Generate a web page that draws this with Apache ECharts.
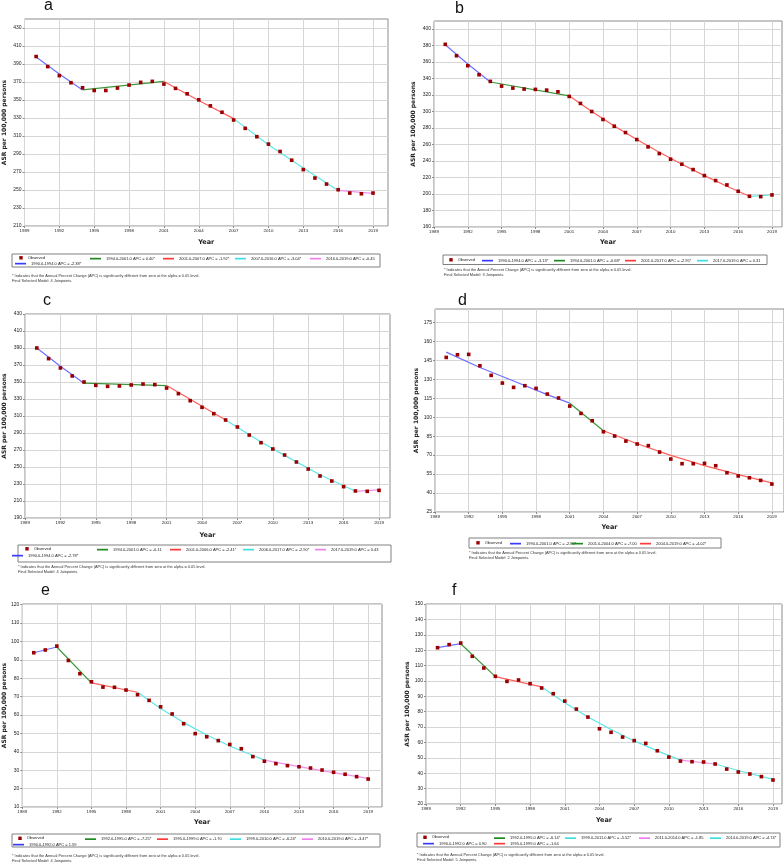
<!DOCTYPE html>
<html>
<head>
<meta charset="utf-8">
<script src="https://cdn.jsdelivr.net/npm/echarts@6/dist/echarts.min.js"></script>
<style>html,body{margin:0;padding:0;background:#fff;}#chart{width:784px;height:863px;}</style>
</head>
<body>
<div id="chart"></div>
<script>
// ---------- DATA ----------
const years = [1990,1991,1992,1993,1994,1995,1996,1997,1998,1999,2000,2001,2002,2003,2004,2005,2006,2007,2008,2009,2010,2011,2012,2013,2014,2015,2016,2017,2018,2019];
const xTicks = [1989,1992,1995,1998,2001,2004,2007,2010,2013,2016,2019];

const yTicksA = [210,230,250,270,290,310,330,350,370,390,410,430];
const yTicksB = [160,180,200,220,240,260,280,300,320,340,360,380,400];
const yTicksC = [190,210,230,250,270,290,310,330,350,370,390,410,430];
const yTicksD = [25,40,55,70,85,100,115,130,145,160,175];
const yTicksE = [10,20,30,40,50,60,70,80,90,100,110,120];
const yTicksF = [20,30,40,50,60,70,80,90,100,110,120,130,140,150];

const obsA = [398.3,387.1,377.1,369.2,363.6,360.6,360.6,363.3,366.6,369.6,370.7,367.7,362.9,356.9,350.2,343.5,336.4,327.8,318.5,309.2,301.0,292.8,283.1,272.7,263.3,256.6,250.3,246.6,245.8,246.6];
const obsB = [381.4,367.6,355.5,344.6,336.5,330.8,328.4,327.2,326.8,325.9,323.9,318.3,309.8,300.0,290.3,282.2,274.5,266.0,257.1,249.0,242.2,236.1,229.6,222.3,216.3,211.0,203.3,197.2,196.8,198.9];
const obsC = [390.0,377.5,366.5,357.1,350.0,346.1,344.9,345.3,346.5,347.6,346.9,342.9,336.3,328.0,320.2,312.7,305.3,297.1,287.6,278.6,271.2,264.1,255.9,247.6,239.4,233.5,226.9,221.8,221.4,222.5];
const obsD = [147.3,149.4,149.7,140.7,133.1,127.0,123.6,124.9,122.8,118.3,115.2,108.8,103.0,97.2,88.5,85.1,81.1,78.8,77.5,72.4,66.9,63.2,63.2,63.5,61.6,56.1,53.5,52.1,50.0,47.1];
const obsE = [93.9,95.4,97.5,89.7,82.5,78.1,75.2,75.1,73.6,71.1,68.0,64.5,60.6,55.3,49.9,48.2,46.1,44.0,41.7,37.4,34.9,33.6,32.5,31.9,31.2,30.1,28.9,27.8,26.5,25.2];
const obsF = [121.6,123.6,124.6,116.0,108.4,103.0,99.7,100.6,98.2,95.4,91.7,86.9,81.7,76.5,68.9,66.6,63.5,61.2,59.4,54.6,50.5,47.9,47.5,47.3,46.0,42.7,40.8,39.5,37.8,35.6];

// joinpoint fitted segments: [year, fitted ASR]
const fitA1 = [[1990,397.7],[1992,379.0],[1994,361.2]];
const fitA2 = [[1994,361.2],[2001,370.6]];
const fitA3 = [[2001,370.6],[2004,349.4],[2007,329.3]];
const fitA4 = [[2007,329.3],[2010,300.2],[2013,274.4],[2016,249.5]];
const fitA5 = [[2016,249.5],[2019,246.2]];

const fitB1 = [[1990,381.0],[1992,357.5],[1994,335.8]];
const fitB2 = [[1994,335.8],[2001,319.0]];
const fitB3 = [[2001,319.0],[2003,300.0],[2005,282.5],[2007,266.1],[2009,250.6],[2011,236.1],[2013,222.3],[2015,209.4],[2017,197.2]];
const fitB4 = [[2017,197.2],[2019,198.8]];

const fitC1 = [[1990,390.0],[1992,368.6],[1994,348.6]];
const fitC2 = [[1994,348.6],[2001,345.8]];
const fitC3 = [[2001,345.8],[2006,305.3]];
const fitC4 = [[2006,305.3],[2009,279.3],[2011,263.7],[2014,240.8],[2017,221.4]];
const fitC5 = [[2017,221.4],[2019,223.2]];

const fitD1 = [[1990,151.5],[1993,139.3],[1996,128.6],[1999,117.9],[2001,111.1]];
const fitD2 = [[2001,111.1],[2004,89.3]];
const fitD3 = [[2004,89.3],[2007,79.0],[2010,69.8],[2013,61.7],[2016,54.6],[2019,48.0]];

const fitE1 = [[1990,93.9],[1992,97.0]];
const fitE2 = [[1992,97.0],[1995,77.5]];
const fitE3 = [[1995,77.5],[1999,72.4]];
const fitE4 = [[1999,72.4],[2001,63.6],[2003,55.9],[2005,49.2],[2007,43.2],[2009,38.0],[2010,35.5]];
const fitE5 = [[2010,35.5],[2013,32.0],[2016,28.7],[2019,25.6]];

const fitF1 = [[1990,121.7],[1992,124.2]];
const fitF2 = [[1992,124.2],[1995,102.8]];
const fitF3 = [[1995,102.8],[1999,96.1]];
const fitF4 = [[1999,96.1],[2001,85.8],[2003,76.6],[2005,68.4],[2007,61.0],[2009,54.5],[2011,48.5]];
const fitF5 = [[2011,48.5],[2014,46.0]];
const fitF6 = [[2014,46.0],[2016,41.8],[2019,36.0]];

const namesA = ['1990.0-1994.0 APC = -2.38*','1994.0-2001.0 APC = 0.40*','2001.0-2007.0 APC = -1.92*','2007.0-2016.0 APC = -3.04*','2016.0-2019.0 APC = -0.45'];
const namesB = ['1990.0-1994.0 APC = -3.13*','1994.0-2001.0 APC = -0.68*','2001.0-2017.0 APC = -2.95*','2017.0-2019.0 APC = 0.31'];
const namesC = ['1990.0-1994.0 APC = -2.78*','1994.0-2001.0 APC = -0.11','2001.0-2006.0 APC = -2.41*','2006.0-2017.0 APC = -2.90*','2017.0-2019.0 APC = 0.43'];
const namesD = ['1990.0-2001.0 APC = -2.80*','2001.0-2004.0 APC = -7.00','2004.0-2019.0 APC = -4.02*'];
const namesE = ['1990.0-1992.0 APC = 1.59','1992.0-1995.0 APC = -7.25*','1995.0-1999.0 APC = -1.70','1999.0-2010.0 APC = -6.24*','2010.0-2019.0 APC = -3.47*'];
const namesF = ['1990.0-1992.0 APC = 0.90','1992.0-1995.0 APC = -6.14*','1995.0-1999.0 APC = -1.64','1999.0-2011.0 APC = -5.52*','2011.0-2014.0 APC = -1.85','2014.0-2019.0 APC = -4.74*'];

const letters = ['a','b','c','d','e','f'];
const joinpoints = [4,3,4,2,4,5];
const footLine1 = '* Indicates that the Annual Percent Change (APC) is significantly different from zero at the alpha = 0.05 level.';
const obsName = 'Observed';
const yTitle = 'ASR per 100,000 persons';
const xTitle = 'Year';

// ---------- STYLE / LAYOUT ----------
const C = {blue:'#6f6fff', green:'#3c963c', red:'#ff5e5e', cyan:'#5ee6e6', pink:'#f090f0'};
const LC = {blue:'#3a3aff', green:'#1f8a1f', red:'#ff3a3a', cyan:'#3ce0e0', pink:'#ee80ee'};
const panels = [
  {obs:obsA, fits:[fitA1,fitA2,fitA3,fitA4,fitA5], names:namesA, cols:['blue','green','red','cyan','pink'], yTicks:yTicksA,
   grid:{left:24,top:19,width:364,height:207}, xMax:2020.29, yMin:210, yMax:440, yGap:17.5, xGap:12.5,
   letter:[44,8.5], box:[12,254,368,13], foot:[12,273],
   leg:[[21,257.5],[15,262.5],[90,257.5],[163,257.5],[235,257.5],[310,257.5]]},
  {obs:obsB, fits:[fitB1,fitB2,fitB3,fitB4], names:namesB, cols:['blue','green','red','cyan'], yTicks:yTicksB,
   grid:{left:434,top:21,width:348,height:206}, xMax:2019.89, yMin:160, yMax:409.7, yGap:18, xGap:12,
   letter:[455,12], box:[443,255,324,9.5], foot:[444,267.5],
   leg:[[451,259.5],[482,259.5],[554,259.5],[625,259.5],[697,259.5]]},
  {obs:obsC, fits:[fitC1,fitC2,fitC3,fitC4,fitC5], names:namesC, cols:['blue','green','red','cyan','pink'], yTicks:yTicksC,
   grid:{left:25,top:314,width:365,height:204}, xMax:2019.93, yMin:190, yMax:430, yGap:18, xGap:14,
   letter:[43,304], box:[18,545,373,17], foot:[18,564],
   leg:[[27,548.5],[12,554.5],[97,548.5],[170,548.5],[243,548.5],[315,548.5]]},
  {obs:obsD, fits:[fitD1,fitD2,fitD3], names:namesD, cols:['blue','green','red'], yTicks:yTicksD,
   grid:{left:435,top:309,width:349,height:203}, xMax:2020.08, yMin:25, yMax:185.6, yGap:16, xGap:12,
   letter:[458,304], box:[469,538,252,10], foot:[469,550.5],
   leg:[[478,542.5],[510,542.5],[572,542.5],[640,542.5]]},
  {obs:obsE, fits:[fitE1,fitE2,fitE3,fitE4,fitE5], names:namesE, cols:['blue','green','red','cyan','pink'], yTicks:yTicksE,
   grid:{left:20,top:604,width:362,height:203}, xMax:2020.2, yMin:10, yMax:120.4, yGap:15, xGap:12,
   letter:[41,594], box:[12,834,368,13], foot:[12,853.5],
   leg:[[20,838],[13,843.5],[85,838],[157,838],[230,838],[302,838]]},
  {obs:obsF, fits:[fitF1,fitF2,fitF3,fitF4,fitF5,fitF6], names:namesF, cols:['blue','green','red','cyan','pink','cyan'], yTicks:yTicksF,
   grid:{left:426,top:604,width:356,height:200}, xMax:2019.78, yMin:20, yMax:150, yGap:16, xGap:13,
   letter:[452,594], box:[417,833,363,14], foot:[417,852.5],
   leg:[[425,837],[423,842.5],[494,837],[494,842.5],[565,837],[639,837],[710,837]]}
];

const FONT = 'Liberation Sans, Arial, sans-serif';
const BOLD = 'DejaVu Sans, Verdana, sans-serif';
const grids = [], xAxes = [], yAxes = [], series = [], legends = [], graphics = [];
const plain = v => String(v);

panels.forEach((p, i) => {
  grids.push(Object.assign({show:true, borderColor:'#8c8c8c', borderWidth:1, containLabel:false}, p.grid));
  xAxes.push({
    gridIndex:i, type:'value', min:1989, max:p.xMax,
    axisLine:{show:false},
    axisTick:{show:true, customValues:xTicks, length:2, lineStyle:{color:'#8c8c8c'}},
    axisLabel:{customValues:xTicks, formatter:plain, fontSize:4.4, color:'#222', margin:3, fontFamily:FONT},
    splitLine:{show:true, lineStyle:{color:'#d6d6d6', width:1}},
    name:xTitle, nameLocation:'middle', nameGap:p.xGap,
    nameTextStyle:{fontFamily:BOLD, fontWeight:'bold', fontSize:6.5, color:'#222'}
  });
  yAxes.push({
    gridIndex:i, type:'value', min:p.yMin, max:p.yMax,
    axisLine:{show:false},
    axisTick:{show:true, customValues:p.yTicks, length:2, lineStyle:{color:'#8c8c8c'}},
    axisLabel:{customValues:p.yTicks, formatter:plain, fontSize:5, color:'#222', margin:3, fontFamily:FONT},
    splitLine:{show:true, lineStyle:{color:'#d6d6d6', width:1}},
    name:yTitle, nameLocation:'middle', nameRotate:90, nameGap:p.yGap,
    nameTextStyle:{fontFamily:BOLD, fontWeight:'bold', fontSize:6, color:'#222'}
  });
  p.fits.forEach((seg, k) => {
    series.push({
      type:'line', name:p.names[k], xAxisIndex:i, yAxisIndex:i, data:seg,
      symbol:'none', showSymbol:false, smooth:false, lineStyle:{color:C[p.cols[k]], width:1.2},
      itemStyle:{color:LC[p.cols[k]]}, z:2, animation:false, silent:true
    });
  });
  series.push({
    type:'scatter', name:obsName, xAxisIndex:i, yAxisIndex:i,
    data:years.map((y, j) => [y, p.obs[j]]),
    symbol:'rect', symbolSize:3.6,
    itemStyle:{color:'#9a0000', borderWidth:0, opacity:1},
    z:3, animation:false, silent:true
  });
  // legends: one per item for exact placement
  const items = [obsName].concat(p.names);
  items.forEach((nm, k) => {
    const pos = p.leg[k];
    const isObs = k === 0;
    const w = isObs ? 3.4 : 11;
    const h = isObs ? 3.4 : 1.7;
    legends.push({
      data:[{name:nm, icon:'rect'}], left:isObs ? pos[0] - w / 2 : pos[0], top:pos[1] - h / 2,
      orient:'horizontal', padding:0, itemGap:0,
      itemWidth:w, itemHeight:h, selectedMode:false,
      itemStyle:{borderWidth:0},
      textStyle:{fontSize:4, color:'#222', fontFamily:FONT}
    });
  });
  // panel letter
  graphics.push({type:'text', left:p.letter[0], top:p.letter[1] - 11,
    style:{text:letters[i], fontSize:16, fontFamily:FONT, fill:'#111'}});
  // legend box
  graphics.push({type:'rect', shape:{x:p.box[0], y:p.box[1], width:p.box[2], height:p.box[3]},
    style:{fill:'none', stroke:'#808080', lineWidth:1}});
  // footnote
  graphics.push({type:'text', left:p.foot[0], top:p.foot[1],
    style:{text:footLine1 + '\nFinal Selected Model: ' + joinpoints[i] + ' Joinpoints.', fontSize:3.9, lineHeight:5, fontFamily:FONT, fill:'#333'}});
});

const chart = echarts.init(document.getElementById('chart'), null, {renderer:'canvas'});
chart.setOption({
  animation:false,
  backgroundColor:'#ffffff',
  grid:grids, xAxis:xAxes, yAxis:yAxes, series:series, legend:legends,
  graphic:{elements:graphics}
});
</script>
</body>
</html>
